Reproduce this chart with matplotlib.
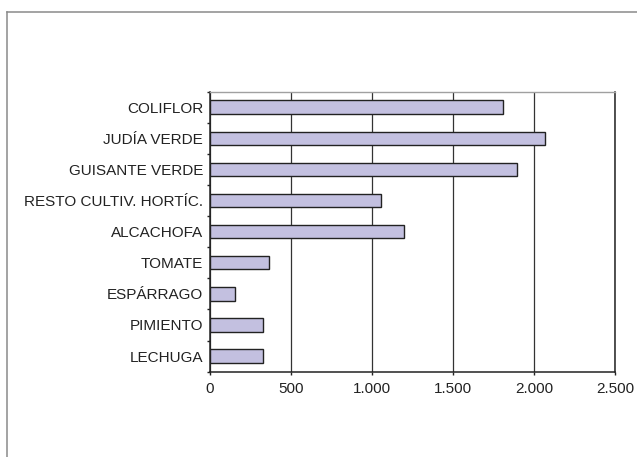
import numpy as np
import matplotlib
matplotlib.use("Agg")
import matplotlib.pyplot as plt
from matplotlib.lines import Line2D
from matplotlib.ticker import FuncFormatter

plt.rcParams["font.family"] = ["Liberation Sans", "DejaVu Sans"]

# data, top to bottom as drawn
cultivos = ["COLIFLOR", "JUDÍA VERDE", "GUISANTE VERDE", "RESTO CULTIV. HORTÍC.",
            "ALCACHOFA", "TOMATE", "ESPÁRRAGO", "PIMIENTO", "LECHUGA"]
valores = [1810, 2067, 1893, 1054, 1199, 363, 155, 332, 330]
x_ticks = [0, 500, 1000, 1500, 2000, 2500]

W, H = 637, 457
fig = plt.figure(figsize=(W / 100, H / 100), dpi=100)

# outer frame (right and bottom edges fall outside the picture)
fx, fy = 7 / W, 1 - 12 / H
fig.add_artist(Line2D([fx, fx], [0, fy], transform=fig.transFigure, color="#8a8a8a", lw=1.1))
fig.add_artist(Line2D([fx, 1], [fy, fy], transform=fig.transFigure, color="#8a8a8a", lw=1.1))

left, right, top, bottom = 209.6, 615.4, 91.5, 371.7
ax = fig.add_axes([left / W, 1 - bottom / H, (right - left) / W, (bottom - top) / H])

pos = np.arange(len(cultivos))
ax.barh(pos, valores, height=0.43, color="#c3c0e0", edgecolor="#222222", linewidth=1.0, zorder=3)

ax.set_xlim(0, 2500)
ax.set_ylim(len(cultivos) - 0.5, -0.5)
ax.set_xticks(x_ticks)
ax.xaxis.set_major_formatter(FuncFormatter(lambda v, p: f"{int(v):,}".replace(",", ".")))
ax.grid(axis="x", color="#333333", lw=0.9, zorder=1)

ax.set_yticks(pos)
ax.set_yticklabels(cultivos)
ax.set_yticks(np.arange(len(cultivos) + 1) - 0.5, minor=True)
ax.tick_params(axis="y", which="major", length=0, pad=4.7, labelsize=11, labelcolor="#222222")
ax.tick_params(axis="y", which="minor", length=2.5, width=1.0, color="#222222", direction="out")
ax.tick_params(axis="x", length=2.5, width=1.0, color="#222222", pad=4.6,
               labelsize=11, labelcolor="#222222")

for s in ["left", "bottom", "right"]:
    ax.spines[s].set_color("#222222")
    ax.spines[s].set_linewidth(1.1)
ax.spines["top"].set_color("#a0a0a0")
ax.spines["top"].set_linewidth(1.0)

fig.savefig("out.png", dpi=100)
